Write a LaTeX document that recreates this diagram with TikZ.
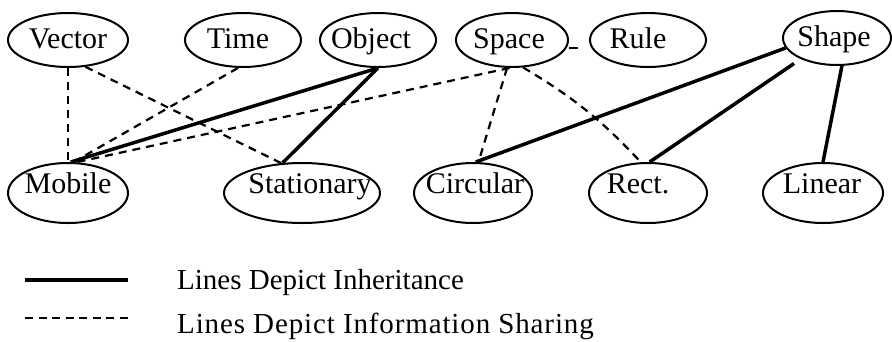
\documentclass[tikz,border=0pt]{standalone}
\usepackage{fontspec}
\setmainfont{Liberation Serif}
\usetikzlibrary{shapes}

\begin{document}
\begin{tikzpicture}[x=1pt,y=-1pt,
        cls/.style={draw,ellipse,line width=2pt,inner sep=0pt,minimum height=54pt},
        sub/.style={cls,minimum height=60pt},
        word/.style={anchor=base,inner sep=0pt,font=\fontsize{30}{32}\selectfont},
        note/.style={anchor=base west,inner sep=0pt,font=\fontsize{29}{32}\selectfont},
        inherit/.style={line width=3.5pt},
        share/.style={line width=2.2pt,dash pattern=on 8pt off 6pt}]
        \useasboundingbox (0,0) rectangle (892,341);
        % classes, top row
        \node[cls,minimum width=120pt] (vector) at (68,40) {};
        \node[cls,minimum width=116pt] (time) at (243,40) {};
        \node[cls,minimum width=116pt] (object) at (378,40) {};
        \node[cls,minimum width=112pt] (space) at (512,40) {};
        \node[cls,minimum width=116pt] (rule) at (648,40) {};
        \node[cls,minimum width=108pt] (shape) at (837,38) {};
        % classes, bottom row
        \node[sub,minimum width=120pt] (mobile) at (68,193) {};
        \node[sub,minimum width=156pt] (stationary) at (302,193) {};
        \node[sub,minimum width=118pt] (circular) at (473,193) {};
        \node[sub,minimum width=118pt] (rect) at (648,193) {};
        \node[sub,minimum width=120pt] (linear) at (823,193) {};
        % names
        \node[word] (vectorw) at (68,48) {Vector};
        \node[word] (timew) at (238,48) {Time};
        \node[word] (objectw) at (371,48) {Object};
        \node[word] (spacew) at (509,48) {Space};
        \node[word] (rulew) at (638,48) {Rule};
        \node[word] (shapew) at (834,46) {Shape};
        \node[word] (mobilew) at (68,193) {Mobile};
        \node[word] (stationaryw) at (310,193) {Stationary};
        \node[word] (circularw) at (475,193) {Circular};
        \node[word] (rectw) at (638,193) {Rect.};
        \node[word] (linearw) at (822,193) {Linear};
        % inheritance
        \draw[inherit] (object.south) -- (mobile.85);
        \draw[inherit] (object.south) -- (stationary.123);
        \draw[inherit] (shape.191) -- (circular.85);
        \draw[inherit,shorten <=8pt] (shape.-150) -- (rect.87);
        \draw[inherit] (shape.-80) -- (linear.north);
        % information sharing
        \foreach \from/\to in {vector.south/mobile.north, vector.-57/stationary.125,
                time.-100/mobile.80, space.-95/mobile.75, space.-100/circular.80}
        \draw[share] (\from) -- (\to);
        \draw[share] (space.-68) to[bend left=8] (rect.103);
        \coordinate (stub) at (578,48);
        \draw[line width=2pt] (stub) -- (stub -| space.east);
        % legend
        \coordinate (inhA) at (25,280);
        \coordinate (inhB) at (128,280);
        \coordinate (shrA) at (25,318);
        \coordinate (shrB) at (128,318);
        \draw[inherit] (inhA) -- (inhB);
        \draw[share,line width=1.8pt,dash pattern=on 8pt off 5.5pt] (shrA) -- (shrB);
        \node[note] (inhtext) at (177,289) {Lines Depict Inheritance};
        \node[note] (shrtext) at (177,333) {\addfontfeature{LetterSpace=3}Lines Depict Information Sharing};
    \end{tikzpicture}
\end{document}
